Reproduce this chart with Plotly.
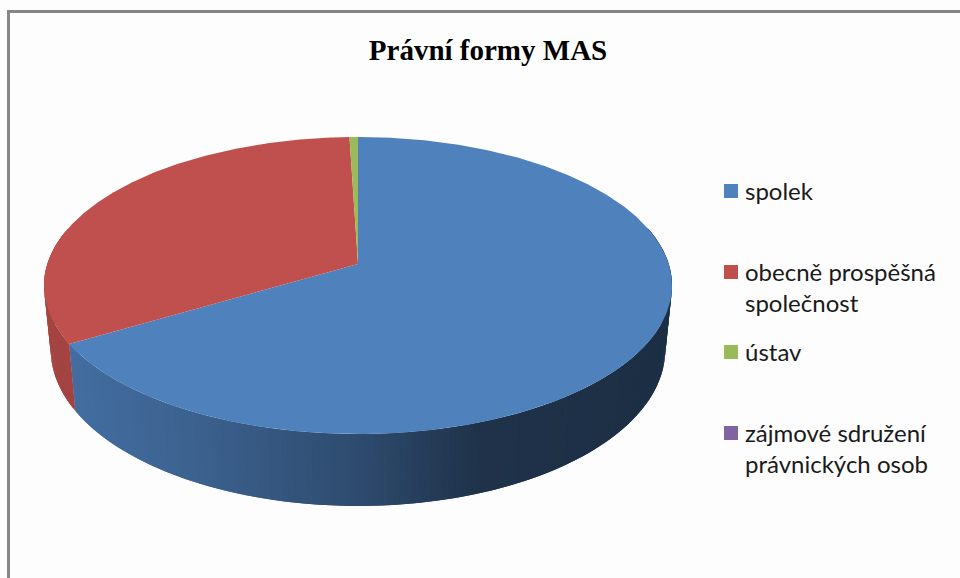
import numpy as np
import plotly.graph_objects as go

categories = ["spolek", "obecně prospěšná<br>společnost", "ústav", "zájmové sdružení<br>právnických osob"]
values = [66.5, 33.0, 0.5, 0.0]
colors = ["#4f81bd", "#c0504d", "#9bbb59", "#8064a2"]
legend_y = [191, 272, 352, 433]

# tilted disc: top face and the lower rim of the wall, in page pixels
CX = 358
TOP = dict(y0=264, a=145.4, b=310.7, k=0.145)
BOTTOM = dict(y0=327, a=153.0, b=304.0, k=0.145)


def project(theta, p):
    u, v = np.sin(theta), -np.cos(theta)
    d = 1 - p["k"] * v
    return CX + p["b"] * u / d, p["y0"] + p["a"] * v / d


def hex_rgb(c):
    return [int(c[i:i + 2], 16) for i in (1, 3, 5)]


def wall_color(c, x):
    # darker towards the right, like the light falling on the original
    f = np.interp(x, [44, 70, 200, 360, 480, 672], [0.86, 0.85, 0.75, 0.58, 0.39, 0.36])
    r, g, b = hex_rgb(c)
    return f"rgb({r * f:.0f},{g * f:.0f},{b * f:.0f})"


fig = go.Figure()

edges = np.concatenate([[0], np.cumsum(values)]) / sum(values) * 2 * np.pi

# wall strips, each one overlaps the next so no seams show
for i, c in enumerate(colors):
    start, end = edges[i], edges[i + 1]
    if end <= start:
        continue
    n = max(int((end - start) / np.radians(1.0)), 1)
    steps = np.linspace(start, end, n + 1)
    for j in range(n):
        a0, a1 = steps[j], steps[min(j + 2, n)]
        if -np.cos((a0 + a1) / 2) < -0.25:
            continue
        th = np.array([a0, steps[j + 1], a1])
        xt, yt = project(th, TOP)
        xb, yb = project(th[::-1], BOTTOM)
        fig.add_trace(go.Scatter(
            x=np.concatenate([xt, xb, xt[:1]]), y=np.concatenate([yt, yb, yt[:1]]),
            mode="lines", fill="toself", fillcolor=wall_color(c, xt[:2].mean()), line=dict(width=0),
            hoverinfo="skip", showlegend=False))

# top face
for i, c in enumerate(colors):
    start, end = edges[i], edges[i + 1]
    if end <= start:
        continue
    th = np.linspace(start, end, max(int((end - start) / np.radians(0.5)), 2) + 1)
    xs, ys = project(th, TOP)
    fig.add_trace(go.Scatter(
        x=np.concatenate([[CX], xs, [CX]]), y=np.concatenate([[TOP["y0"]], ys, [TOP["y0"]]]),
        mode="lines", fill="toself", fillcolor=c, line=dict(color=c, width=0),
        text=categories[i].replace("<br>", " "), hoverinfo="text", showlegend=False))

# legend
fig.add_trace(go.Scatter(
    x=[731] * len(categories), y=legend_y, mode="markers",
    marker=dict(symbol="square", size=14, color=colors, line=dict(width=0)),
    hoverinfo="skip", showlegend=False))
for name, y in zip(categories, legend_y):
    fig.add_annotation(
        x=743, y=y, text=name, showarrow=False, xanchor="left", yanchor="top", yshift=17.5,
        align="left", font=dict(family="Lato", size=24, color="#1a1a1a"))

fig.update_layout(
    width=960, height=578,
    margin=dict(l=0, r=0, t=0, b=0),
    paper_bgcolor="#fdfdfd", plot_bgcolor="#fdfdfd",
    title=dict(text="<b>Právní formy MAS</b>", x=488 / 960, xanchor="center", y=1 - 50 / 578, yanchor="middle",
               font=dict(family="Liberation Serif", size=29, color="#000000")),
    xaxis=dict(range=[0, 960], visible=False, fixedrange=True),
    yaxis=dict(range=[578, 0], visible=False, fixedrange=True),
    shapes=[
        dict(type="line", x0=8.5, x1=8.5, y0=10, y1=578, line=dict(color="#868686", width=3), layer="below"),
        dict(type="line", x0=7, x1=960, y0=11.5, y1=11.5, line=dict(color="#868686", width=3), layer="below"),
    ],
)

fig.write_html("out.html", config={"displayModeBar": False},
               post_script="document.body.style.margin='0';")
